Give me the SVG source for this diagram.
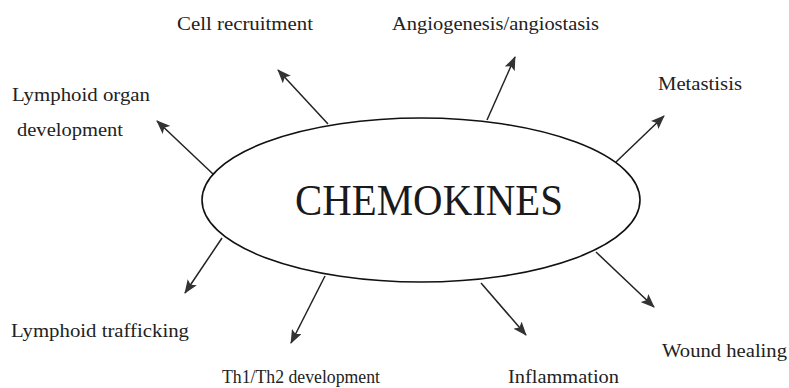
<svg xmlns="http://www.w3.org/2000/svg" width="789" height="388" viewBox="0 0 789 388">
<style>
text{font-family:"Liberation Serif","Times New Roman",serif}
.lbl{font-size:19px;fill:#222}
.title{font-size:44px;fill:#1a1a1a}
.conn{stroke:#222;stroke-width:1.5;fill:none;marker-end:url(#ah)}
</style>
<defs>
<marker id="ah" viewBox="0 0 14 11" refX="13" refY="5.5" markerWidth="14" markerHeight="11" markerUnits="userSpaceOnUse" orient="auto">
<path d="M0,0 L14,5.5 L0,11 L3,5.5 Z" fill="#333"/>
</marker>
</defs>
<rect width="789" height="388" fill="#fff"/>
<g id="connectors">
<line class="conn" x1="328" y1="124" x2="278" y2="70"/>
<line class="conn" x1="213" y1="174" x2="157" y2="121"/>
<line class="conn" x1="487" y1="120" x2="515" y2="57"/>
<line class="conn" x1="616" y1="162" x2="664" y2="116"/>
<line class="conn" x1="222" y1="238" x2="185" y2="293"/>
<line class="conn" x1="325" y1="276" x2="291" y2="343"/>
<line class="conn" x1="481" y1="283" x2="526" y2="335"/>
<line class="conn" x1="596" y1="252" x2="654" y2="307"/>
</g>
<g id="chemokines">
<ellipse cx="421" cy="200" rx="219" ry="82" fill="none" stroke="#111" stroke-width="1.6"/>
<text class="title" x="295" y="215" textLength="268" lengthAdjust="spacingAndGlyphs">CHEMOKINES</text>
</g>
<g id="cell-recruitment"><text class="lbl" font-family="Liberation Serif, serif" x="177" y="30" textLength="136" lengthAdjust="spacingAndGlyphs">Cell recruitment</text></g>
<g id="angiogenesis"><text class="lbl" font-family="Liberation Serif, serif" x="392" y="30" textLength="207" lengthAdjust="spacingAndGlyphs">Angiogenesis/angiostasis</text></g>
<g id="metastisis"><text class="lbl" font-family="Liberation Serif, serif" x="658" y="90" textLength="84" lengthAdjust="spacingAndGlyphs">Metastisis</text></g>
<g id="lymphoid-organ"><text class="lbl" font-family="Liberation Serif, serif" x="12" y="101" textLength="138" lengthAdjust="spacingAndGlyphs">Lymphoid organ</text><text class="lbl" font-family="Liberation Serif, serif" x="17" y="136" textLength="106" lengthAdjust="spacingAndGlyphs">development</text></g>
<g id="lymphoid-trafficking"><text class="lbl" font-family="Liberation Serif, serif" x="11" y="337" textLength="178" lengthAdjust="spacingAndGlyphs">Lymphoid trafficking</text></g>
<g id="th1-th2"><text class="lbl" font-family="Liberation Serif, serif" x="222" y="383" textLength="158" lengthAdjust="spacingAndGlyphs">Th1/Th2 development</text></g>
<g id="inflammation"><text class="lbl" font-family="Liberation Serif, serif" x="508" y="383" textLength="111" lengthAdjust="spacingAndGlyphs">Inflammation</text></g>
<g id="wound-healing"><text class="lbl" font-family="Liberation Serif, serif" x="662" y="357" textLength="125" lengthAdjust="spacingAndGlyphs">Wound healing</text></g>
</svg>
